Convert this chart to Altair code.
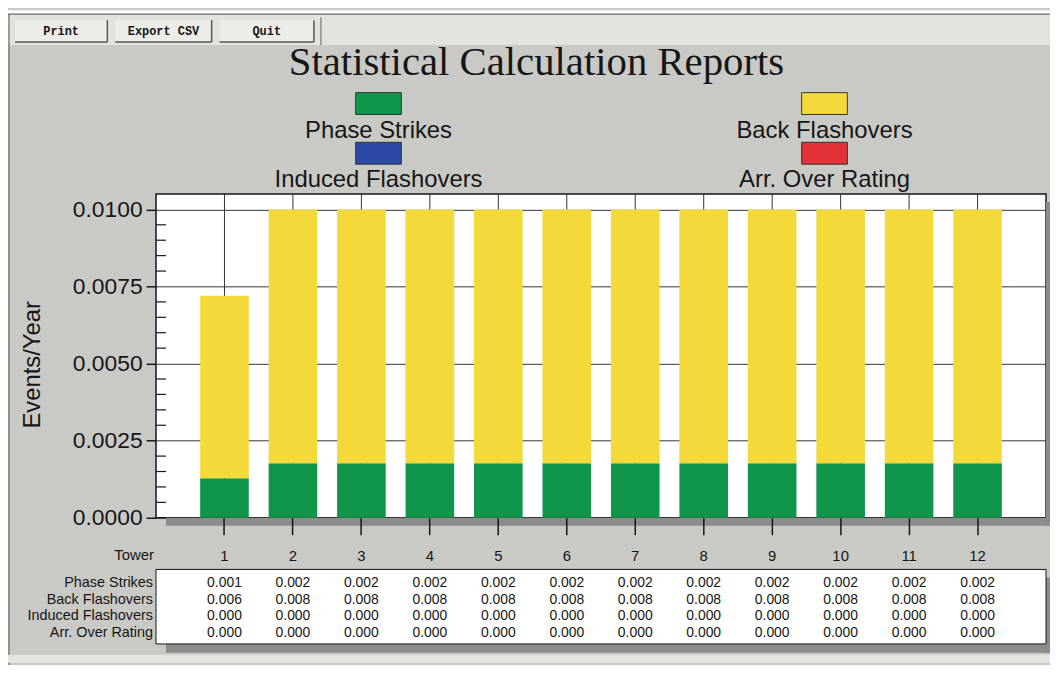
import altair as alt
import pandas as pd

# ---------------- data ----------------
towers = [1, 2, 3, 4, 5, 6, 7, 8, 9, 10, 11, 12]
series_names = ["Phase Strikes", "Back Flashovers", "Induced Flashovers", "Arr. Over Rating"]
phase_strikes = [0.00128, 0.00177, 0.00177, 0.00177, 0.00177, 0.00177,
                 0.00177, 0.00177, 0.00177, 0.00177, 0.00177, 0.00177]
back_flashovers = [0.00592, 0.00823, 0.00823, 0.00823, 0.00823, 0.00823,
                   0.00823, 0.00823, 0.00823, 0.00823, 0.00823, 0.00823]
induced_flashovers = [0.0, 0.0, 0.0, 0.0, 0.0, 0.0, 0.0, 0.0, 0.0, 0.0, 0.0, 0.0]
arr_over_rating = [0.0, 0.0, 0.0, 0.0, 0.0, 0.0, 0.0, 0.0, 0.0, 0.0, 0.0, 0.0]
series_colors = ["#10964a", "#f4d93a", "#2a48a6", "#e23238"]
y_major_ticks = [0.0, 0.0025, 0.005, 0.0075, 0.01]
y_minor_ticks = [0.0005, 0.001, 0.0015, 0.002, 0.003, 0.0035, 0.004, 0.0045,
                 0.0055, 0.006, 0.0065, 0.007, 0.008, 0.0085, 0.009, 0.0095]
buttons = ["Print", "Export CSV", "Quit"]

rows = []
for i, (name, vals) in enumerate(zip(series_names, [phase_strikes, back_flashovers,
                                                    induced_flashovers, arr_over_rating])):
    for t, v in zip(towers, vals):
        rows.append({"Tower": t, "series": name, "value": v, "order": i, "label": f"{v:.3f}"})
df = pd.DataFrame(rows)
tower_df = pd.DataFrame({"Tower": towers})
minor_df = pd.DataFrame({"tick": y_minor_ticks})
ONE = pd.DataFrame({"k": [0]})

# ---------------- layout constants ----------------
W, H = 896, 326
SANS = "Liberation Sans"
INK = "#161616"
SHADOW = "#8c8c8a"

X_ENC = alt.X("Tower:O",
              scale=alt.Scale(paddingInner=0.29, paddingOuter=0.645),
              axis=alt.Axis(title=None, labelAngle=0, labelFont=SANS, labelFontSize=15,
                            labelColor=INK, tickSize=17, tickColor=INK, tickWidth=1.5,
                            labelPadding=14, domain=False, grid=False, zindex=1))
Y_SCALE = alt.Scale(domain=[0, 0.0105], nice=False, zero=True)
Y_AXIS = alt.Axis(title=None, values=y_major_ticks, format=".4f", labelFont=SANS,
                  labelFontSize=23, labelColor=INK, tickSize=10, tickColor=INK,
                  tickWidth=1.5, labelPadding=4, grid=True, gridColor="#333333",
                  gridWidth=1, domain=False)


def vrect(x, x2, y, y2, fill, stroke=None):
    kw = {"fill": fill}
    if stroke:
        kw["stroke"] = stroke
        kw["strokeWidth"] = 1
    return alt.Chart(ONE).mark_rect(**kw).encode(
        x=alt.value(x), x2=alt.value(x2), y=alt.value(y), y2=alt.value(y2))


def vline(x, x2, y, y2, color, w=1.0):
    return alt.Chart(ONE).mark_rule(color=color, strokeWidth=w).encode(
        x=alt.value(x), x2=alt.value(x2), y=alt.value(y), y2=alt.value(y2))


def vtext(s, x, y, size, font=SANS, align="center", baseline="alphabetic",
          weight="normal", angle=0):
    kw = dict(text=s, font=font, fontSize=size, align=align, baseline=baseline,
              color=INK, fontWeight=weight)
    if angle:
        kw["angle"] = angle
    return alt.Chart(ONE).mark_text(**kw).encode(x=alt.value(x), y=alt.value(y))


layers = []

# window chrome: top strip, toolbar, buttons
layers.append(vrect(-149, W + 4, -185, -181, "#ffffff"))
layers.append(vrect(-149, W + 4, -181, -150, "#e3e3dd"))
layers.append(vline(-149, W + 4, -181, -181, "#6a6a6a", 1.2))
layers.append(vline(-148, -148, -181, 480, "#6a6a6a", 1.2))
btn_x = [(-142, -49), (-41, 56), (64, 159)]
for name, (bx, bx2) in zip(buttons, btn_x):
    layers.append(vrect(bx, bx2, -175, -153, "#ececE8"))
    layers.append(vline(bx2, bx2, -175, -153, "#555555", 1.5))
    layers.append(vline(bx, bx2, -153, -153, "#555555", 1.5))
    layers.append(vtext(name, (bx + bx2) / 2, -164, 12, font="Liberation Mono",
                        baseline="middle", weight="bold"))
layers.append(vline(166, 166, -178, -150, "#7a7a7a", 1.2))

# title
layers.append(vtext("Statistical Calculation Reports", 383, -120, 41, font="Liberation Serif"))

# custom legend (swatch above label)
legend_pos = [(224, -102, -56), (673, -102, -56), (224, -52, -7), (673, -52, -7)]
for name, col, (cx, sy, ty) in zip(series_names, series_colors, legend_pos):
    layers.append(vrect(cx - 23, cx + 23, sy, sy + 22, col, stroke="#333333"))
    layers.append(vtext(name, cx, ty, 24))

# plot shadows
layers.append(vrect(10, W + 4, H, H + 8, SHADOW))
layers.append(vrect(W, W + 4, 8, H + 8, SHADOW))

# table box + shadow
layers.append(vrect(10, W + 4, 453, 462, SHADOW))
layers.append(vrect(W, W + 4, 386, 462, SHADOW))
layers.append(vrect(0, W, 378, 453, "#ffffff", stroke=INK))
layers.append(vrect(-149, W + 4, 464, 472, "#e4e4e0"))

# vertical grid at tower centres (behind bars)
layers.append(alt.Chart(tower_df).mark_rule(color="#333333", strokeWidth=1).encode(x=X_ENC))

# minor ticks inside the plot on the left
layers.append(alt.Chart(minor_df).mark_rule(color=INK, strokeWidth=1.2).encode(
    y=alt.Y("tick:Q", scale=Y_SCALE, axis=Y_AXIS), x=alt.value(0), x2=alt.value(10)))

# stacked bars
layers.append(alt.Chart(df).mark_bar().encode(
    x=X_ENC,
    y=alt.Y("value:Q", stack="zero", scale=Y_SCALE, axis=Y_AXIS),
    color=alt.Color("series:N", scale=alt.Scale(domain=series_names, range=series_colors),
                    legend=None),
    order=alt.Order("order:Q", sort="ascending"),
))

# axis title
layers.append(vtext("Events/Year", -124, 172, 24, baseline="middle", angle=270))

# "Tower" row label
layers.append(vtext("Tower", -2, 363, 15, align="right", baseline="middle"))

# table rows
row_y = [392, 409, 425, 442]
for name, ry in zip(series_names, row_y):
    layers.append(vtext(name, -3, ry, 14.5, align="right", baseline="middle"))
    layers.append(alt.Chart(df[df["series"] == name]).mark_text(
        font=SANS, fontSize=14, color=INK, baseline="middle").encode(
        x=X_ENC, y=alt.value(ry), text="label:N"))

chart = alt.layer(*layers).properties(
    width=W, height=H,
    autosize=alt.AutoSizeParams(type="none"),
    padding={"left": 149, "top": 185, "right": 4, "bottom": 146},
    background="#c9c9c5",
).configure_view(fill="#ffffff", stroke=INK, strokeWidth=1.5)

chart.save("out.html", embed_options={"renderer": "svg", "actions": False})
